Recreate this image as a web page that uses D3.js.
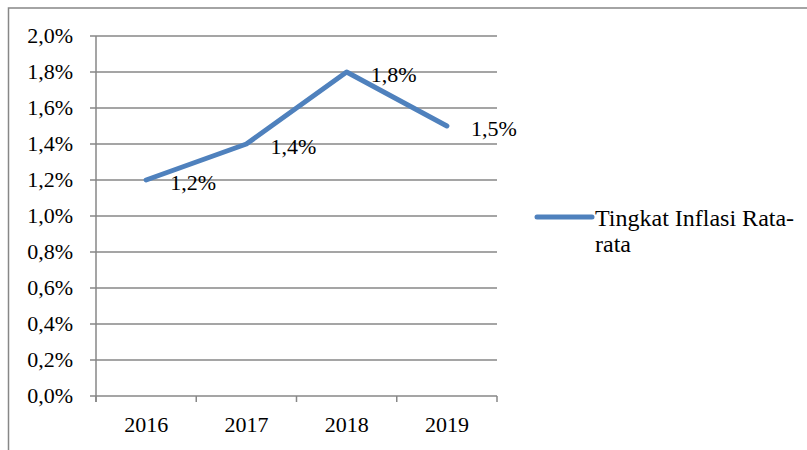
<!DOCTYPE html>
<html><head><meta charset="utf-8">
<script src="https://cdn.jsdelivr.net/npm/d3@7"></script>
<style>body{margin:0;background:#fff}svg{display:block}text{font-family:"Liberation Serif","Times New Roman",serif}</style>
</head><body>
<script>
const categories = ["2016","2017","2018","2019"];
const values = [1.2, 1.4, 1.8, 1.5];
const valueLabels = ["1,2%","1,4%","1,8%","1,5%"];
const yTicks = [0,0.2,0.4,0.6,0.8,1.0,1.2,1.4,1.6,1.8,2.0];
const seriesName = ["Tingkat Inflasi Rata-","rata"];

const W=807,H=450;
const svg=d3.select("body").append("svg").attr("width",W).attr("height",H);
const grid="#878787";
// outer border
svg.append("rect").attr("x",8.5).attr("y",8).attr("width",W+20).attr("height",H+20)
  .attr("fill","none").attr("stroke",grid).attr("stroke-width",1.5);

const x=d3.scaleBand().domain(categories).range([96,497]);
const y=d3.scaleLinear().domain([0,2]).range([396,36]);
const fmt=d=>d3.format(".1f")(d).replace(".",",")+"%";

// gridlines
svg.append("g").selectAll("line").data(yTicks).join("line")
  .attr("x1",90).attr("x2",497).attr("y1",d=>y(d)).attr("y2",d=>y(d))
  .attr("stroke",grid).attr("stroke-width",1.5);
// y axis line
svg.append("line").attr("x1",96).attr("x2",96).attr("y1",36).attr("y2",402)
  .attr("stroke",grid).attr("stroke-width",1.5);
// x ticks
const xt=categories.map(c=>x(c)+x.bandwidth()).concat([x(categories[0])]);
svg.append("g").selectAll("line").data(xt).join("line")
  .attr("x1",d=>d).attr("x2",d=>d).attr("y1",396).attr("y2",402)
  .attr("stroke",grid).attr("stroke-width",1.5);
// y labels
svg.append("g").selectAll("text").data(yTicks).join("text")
  .attr("x",73).attr("y",d=>y(d)).attr("dy","0.33em").attr("text-anchor","end")
  .attr("font-size",22).text(fmt);
// x labels
svg.append("g").selectAll("text").data(categories).join("text")
  .attr("x",d=>x(d)+x.bandwidth()/2).attr("y",432).attr("text-anchor","middle")
  .attr("font-size",22).text(d=>d);
// line
const line=d3.line().x((d,i)=>x(categories[i])+x.bandwidth()/2).y(d=>y(d));
svg.append("path").datum(values).attr("d",line).attr("fill","none")
  .attr("stroke","#4F81BD").attr("stroke-width",5).attr("stroke-linejoin","round").attr("stroke-linecap","round");
// data labels
svg.append("g").selectAll("text").data(values).join("text")
  .attr("x",(d,i)=>x(categories[i])+x.bandwidth()/2+24).attr("y",d=>y(d)+3).attr("dy","0.33em")
  .attr("font-size",22).text((d,i)=>valueLabels[i]);
// legend
svg.append("line").attr("x1",537).attr("x2",592).attr("y1",217).attr("y2",217)
  .attr("stroke","#4F81BD").attr("stroke-width",5).attr("stroke-linecap","round");
svg.append("g").selectAll("text").data(seriesName).join("text")
  .attr("x",595).attr("y",(d,i)=>226+i*26).attr("font-size",24).text(d=>d);
</script>
</body></html>
